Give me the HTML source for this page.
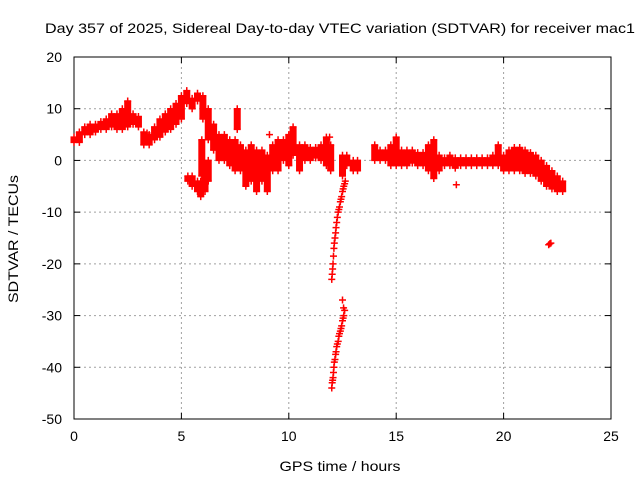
<!DOCTYPE html>
<html><head><meta charset="utf-8"><style>
body{margin:0;background:#fff}
svg{display:block;font-family:"Liberation Sans",sans-serif}
</style></head><body>
<svg id="chart" width="640" height="480" viewBox="0 0 640 480">
<text x="340" y="33" font-size="14" text-anchor="middle" textLength="590" lengthAdjust="spacingAndGlyphs">Day 357 of 2025, Sidereal Day-to-day VTEC variation (SDTVAR) for receiver mac1</text>
<g id="grid"></g>
<g id="axes"></g>
<g id="marks"></g>
<text x="340" y="471" font-size="14" text-anchor="middle" textLength="121" lengthAdjust="spacingAndGlyphs">GPS time / hours</text>
<text transform="translate(18,239) rotate(-90)" font-size="14" text-anchor="middle" textLength="128" lengthAdjust="spacingAndGlyphs">SDTVAR / TECUs</text>
</svg>
<script>
const xTicks=[0,5,10,15,20,25];
const yTicks=[20,10,0,-10,-20,-30,-40,-50];
// main band: time, lower, upper
const bandT=[0,0.25,0.5,0.75,1,1.25,1.5,1.75,2,2.25,2.5,2.75,3,3.25,3.5,3.75,4,4.25,4.5,4.75,5,5.25,5.5,5.75,6,6.25,6.5,6.75,7,7.25,7.5,7.6,7.75,8,8.25,8.5,8.75,9,9.25,9.5,9.75,10,10.2,10.5,10.75,11,11.25,11.5,11.75,11.95,12.5,12.7,13,13.2,14,14.25,14.5,14.75,15,15.25,15.5,15.75,16,16.25,16.5,16.75,17,17.25,17.5,17.75,18,18.25,18.5,18.75,19,19.25,19.5,19.75,20,20.25,20.5,20.75,21,21.25,21.5,21.75,22,22.25,22.5,22.75];
const bandLo=[3.5,3.5,5,5,5.5,6,6,6.5,6,6,6.5,7,6.5,3,3,4,4.5,5.5,6,7,8,11,10,11.5,8,4,2,0,0,-1,-2,6,-2,-5,-4,-6,-4,-6,-2,-2,0,-1,1,-2,0,0,0.5,0,-1,-2,-3,-1,-2,-2,0,0,0,-1,-1,-1,-1,-0.5,-1,-1,-2,-3.5,-2,-1,-1,-1.5,-1,-1,-1,-1,-1,-1,-1,-1,-2,-2,-2,-2,-2.5,-2.5,-3,-4,-5,-5.5,-6,-6];
const bandHi=[4.5,5.5,6.5,7,7,7.5,8,9,9,10,11.5,9,8.5,5.5,5,6.5,8,9,10,11,12.5,13.5,12,13,12.5,10,7,5,5,4,4,10,3,2,3,2,2,1,3,4,4,5,6.5,3,3,2.5,2.5,3,4.5,3,1,1,0,0,3,2,2,3,4.5,2,2,2,1.5,1.5,3,4,1,0.5,1,0.5,0.5,0.5,0.5,0.5,0.5,0.5,1,3,1,2,2.5,2.5,2,1.5,1,0,-1,-2,-3,-4];
// lower branch near hour 5-6
const branchT=[5.3,5.5,5.75,5.9,5.95,6.1,6.25];
const branchLo=[-4,-5,-6,-7,-3,-6,-4];
const branchHi=[-3,-3,-4,-4,4,-2,0];
// steep drops near hour 12 and scattered points
const pointT=[12.0,12.02,12.04,12.06,12.08,12.1,12.12,12.15,12.18,12.2,12.23,12.26,12.3,12.33,12.36,12.4,12.43,12.46,12.5,12.53,12.56,12.6,12.63,
12.0,12.02,12.04,12.06,12.08,12.1,12.12,12.15,12.18,12.2,12.23,12.26,12.3,12.33,12.36,12.4,12.43,12.46,12.5,12.53,12.56,12.6,12.5,12.55,
17.8,22.2,22.1,22.15,9.1,3.4,11.9];
const pointV=[-23,-22,-21,-20,-18.5,-17,-16,-15,-14,-13,-12,-11,-10,-9.5,-9,-8,-7.5,-7,-6,-5.5,-5,-4.5,-4,
-44,-43,-42.5,-42,-41,-40,-39,-38.5,-37.5,-37,-36,-35.5,-35,-34,-33.5,-33,-32.5,-32,-31,-30.5,-30,-29,-27,-28.5,
-4.7,-16,-16.3,-16.1,5,5.3,4.5];

const NS='http://www.w3.org/2000/svg';
const L=74,R=611,T=57,B=419;
const xs=t=>L+(t-0)/25*(R-L);
const ys=v=>T+(20-v)/70*(B-T);
function mk(tag,attrs,parent){const e=document.createElementNS(NS,tag);for(const k in attrs)e.setAttribute(k,attrs[k]);parent.appendChild(e);return e;}
const grid=document.getElementById('grid'),axes=document.getElementById('axes'),marks=document.getElementById('marks');
xTicks.forEach(t=>{
  const x=xs(t);
  if(t>0&&t<25){const g=mk('line',{x1:x,x2:x,y1:T,y2:B,stroke:'#a0a0a0','stroke-dasharray':'2,3'},grid);
  
  }
  mk('line',{x1:x,x2:x,y1:B,y2:B-6,stroke:'#000'},axes);
  mk('line',{x1:x,x2:x,y1:T,y2:T+6,stroke:'#000'},axes);
  const lb=mk('text',{x:x,y:B+22,'font-size':14,'text-anchor':'middle'},axes);lb.textContent=t;
  
  
});
yTicks.forEach(v=>{
  const y=ys(v);
  if(v<20&&v>-50){const g=mk('line',{x1:L,x2:R,y1:y,y2:y,stroke:'#a0a0a0','stroke-dasharray':'2,3'},grid);
  
  }
  mk('line',{x1:L,x2:L+6,y1:y,y2:y,stroke:'#000'},axes);
  mk('line',{x1:R,x2:R-6,y1:y,y2:y,stroke:'#000'},axes);
  const lb=mk('text',{x:L-12,y:y+5,'font-size':14,'text-anchor':'end'},axes);lb.textContent=v;
  
  
});
const fr=mk('rect',{x:L,y:T,width:R-L,height:B-T,fill:'none',stroke:'#000','stroke-width':1},axes);


function plus(t,v){
  const x=xs(t),y=ys(v);
  const p=mk('path',{d:`M${x-3.5},${y}H${x+3.5}M${x},${y-3.5}V${y+3.5}`,stroke:'#f00','stroke-width':1.5,fill:'none'},marks);
  
  
}
function band(T_,Lo,Hi){
  for(let i=0;i<T_.length;i++){
    const x=xs(T_[i]),y1=ys(Hi[i]),y2=ys(Lo[i]);
    const r=mk('rect',{x:x-3.5,y:y1,width:7,height:Math.max(1,y2-y1),fill:'#f00'},marks);
    
    
    plus(T_[i],Lo[i]);plus(T_[i],Hi[i]);
  }
}
band(bandT,bandLo,bandHi);
band(branchT,branchLo,branchHi);
for(let i=0;i<pointT.length;i++)plus(pointT[i],pointV[i]);
</script>
</body></html>
